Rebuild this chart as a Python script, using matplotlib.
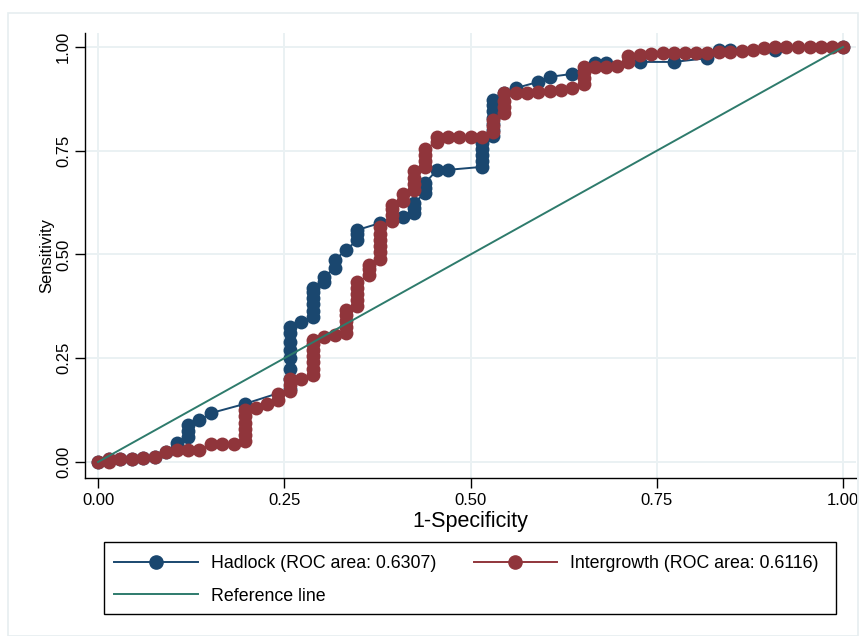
import matplotlib.pyplot as plt
from matplotlib.lines import Line2D
from matplotlib.patches import Rectangle

plt.rcParams['font.family'] = ['Liberation Sans', 'DejaVu Sans']

# Hadlock ROC points (1-specificity, sensitivity)
hadlock_x = [0.0, 0.015, 0.030, 0.045, 0.061, 0.076, 0.091, 0.106,
             0.121, 0.121, 0.121, 0.136, 0.152, 0.197,
             0.258, 0.258, 0.258, 0.258, 0.258, 0.258, 0.258, 0.258,
             0.273,
             0.288, 0.288, 0.288, 0.288, 0.288, 0.288, 0.303, 0.303,
             0.318, 0.318, 0.333, 0.348, 0.348, 0.348, 0.379, 0.409,
             0.424, 0.424, 0.424, 0.439, 0.439, 0.439, 0.455, 0.470,
             0.515, 0.515, 0.515, 0.515, 0.515,
             0.530, 0.530, 0.530, 0.530, 0.530, 0.530, 0.530,
             0.545, 0.561, 0.591, 0.606, 0.636, 0.667, 0.682,
             0.727, 0.773, 0.818, 0.833, 0.848, 0.909, 1.0]
hadlock_y = [0.0, 0.007, 0.007, 0.007, 0.010, 0.012, 0.024, 0.046,
             0.060, 0.075, 0.090, 0.100, 0.118, 0.140,
             0.175, 0.200, 0.225, 0.250, 0.270, 0.290, 0.310, 0.325,
             0.337,
             0.350, 0.365, 0.380, 0.395, 0.410, 0.420, 0.434, 0.446,
             0.467, 0.487, 0.511, 0.535, 0.550, 0.559, 0.576, 0.590,
             0.600, 0.612, 0.624, 0.648, 0.660, 0.672, 0.704, 0.704,
             0.711, 0.725, 0.740, 0.755, 0.769,
             0.785, 0.800, 0.815, 0.830, 0.845, 0.860, 0.872,
             0.889, 0.901, 0.916, 0.928, 0.935, 0.961, 0.961,
             0.964, 0.964, 0.973, 0.993, 0.993, 0.993, 1.0]

# Intergrowth ROC points (1-specificity, sensitivity)
inter_x = [0.0, 0.015, 0.015, 0.030, 0.045, 0.061, 0.076, 0.091, 0.106,
           0.121, 0.136, 0.152, 0.167, 0.182,
           0.197, 0.197, 0.197, 0.197, 0.197, 0.197,
           0.212, 0.227, 0.242, 0.242,
           0.258, 0.258, 0.258, 0.273,
           0.288, 0.288, 0.288, 0.288, 0.288, 0.288, 0.288,
           0.303, 0.318,
           0.333, 0.333, 0.333, 0.333, 0.333,
           0.348, 0.348, 0.348, 0.348, 0.348,
           0.364, 0.364, 0.364,
           0.379, 0.379, 0.379, 0.379, 0.379, 0.379,
           0.394, 0.394, 0.394, 0.394, 0.409, 0.409,
           0.424, 0.424, 0.424, 0.424, 0.439, 0.439, 0.439, 0.439,
           0.455, 0.455, 0.470, 0.485, 0.500, 0.515,
           0.530, 0.530, 0.530, 0.545, 0.545, 0.545, 0.545,
           0.561, 0.576, 0.591, 0.606, 0.621, 0.636,
           0.652, 0.652, 0.652, 0.652, 0.667, 0.682, 0.697,
           0.712, 0.712, 0.727, 0.742, 0.758, 0.773, 0.788, 0.803, 0.818,
           0.833, 0.848, 0.864, 0.879, 0.894, 0.909, 0.924, 0.939, 0.955,
           0.970, 0.985, 1.0]
inter_y = [0.0, 0.0, 0.007, 0.007, 0.007, 0.010, 0.012, 0.024, 0.029,
           0.029, 0.029, 0.043, 0.043, 0.043,
           0.050, 0.065, 0.080, 0.095, 0.110, 0.125,
           0.130, 0.140, 0.150, 0.165,
           0.170, 0.185, 0.200, 0.200,
           0.210, 0.225, 0.240, 0.255, 0.270, 0.285, 0.295,
           0.300, 0.306,
           0.310, 0.325, 0.340, 0.355, 0.366,
           0.375, 0.390, 0.405, 0.420, 0.434,
           0.450, 0.465, 0.475,
           0.490, 0.505, 0.520, 0.535, 0.550, 0.566,
           0.580, 0.595, 0.610, 0.620, 0.630, 0.645,
           0.655, 0.670, 0.685, 0.700, 0.710, 0.725, 0.740, 0.755,
           0.770, 0.783, 0.783, 0.783, 0.783, 0.783,
           0.795, 0.810, 0.825, 0.840, 0.855, 0.870, 0.889,
           0.889, 0.889, 0.892, 0.894, 0.897, 0.900,
           0.910, 0.925, 0.940, 0.952, 0.952, 0.952, 0.955,
           0.965, 0.978, 0.980, 0.983, 0.985, 0.986, 0.986, 0.986, 0.986,
           0.988, 0.988, 0.990, 0.993, 0.998, 1.0, 1.0, 1.0, 1.0,
           1.0, 1.0, 1.0]

ref_x = [0.0, 1.0]
ref_y = [0.0, 1.0]

ticks = [0.0, 0.25, 0.5, 0.75, 1.0]
tick_labels = ["0.00", "0.25", "0.50", "0.75", "1.00"]

labels = ["Hadlock (ROC area: 0.6307)", "Intergrowth (ROC area: 0.6116)",
          "Reference line"]

navy = "#1a476f"
maroon = "#90353b"
green = "#2e7b6c"
grid_col = "#eaf1f3"

W, H = 863, 636
fig = plt.figure(figsize=(W / 100, H / 100), dpi=100)

# light outer frame (Stata graph region)
fig.patches.append(Rectangle((8 / W, 0), (858 - 8) / W, 1 - 13 / H,
                             transform=fig.transFigure, fill=False,
                             edgecolor="#e6eef0", linewidth=1.2))

ax = fig.add_axes([85 / W, 1 - 478 / H, (856 - 85) / W, (478 - 33) / H])
ax.set_xlim(-0.0175, 1.0174)
ax.set_ylim(-0.0386, 1.0337)

for t in ticks:
    ax.axhline(t, color=grid_col, lw=1.4, zorder=0)
    ax.axvline(t, color=grid_col, lw=1.4, zorder=0)

ms = 10
ax.plot(hadlock_x, hadlock_y, color=navy, lw=1.4, marker="o", ms=ms,
        markeredgewidth=0, zorder=2)
ax.plot(inter_x, inter_y, color=maroon, lw=1.4, marker="o", ms=ms,
        markeredgewidth=0, zorder=3)
ax.plot(ref_x, ref_y, color=green, lw=1.4, zorder=4)

for s in ["top", "right"]:
    ax.spines[s].set_visible(False)
for s in ["left", "bottom"]:
    ax.spines[s].set_linewidth(1.0)

ax.set_xticks(ticks)
ax.set_xticklabels(tick_labels, fontsize=12)
ax.set_yticks(ticks)
ax.set_yticklabels(tick_labels, fontsize=12, rotation=90, va="center")
ax.tick_params(direction="out", length=7, width=1, pad=3)
ax.tick_params(axis="x", pad=4)

ax.set_xlabel("1-Specificity", fontsize=15.5, labelpad=2)
ax.set_ylabel("Sensitivity", fontsize=12, labelpad=1)

handles = [
    Line2D([], [], color=navy, lw=1.4, marker="o", ms=9.5),
    Line2D([], [], color=green, lw=1.4),
    Line2D([], [], color=maroon, lw=1.4, marker="o", ms=9.5),
]
fig.legend(handles, [labels[0], labels[2], labels[1]], ncol=2,
           loc="center left", bbox_to_anchor=(114 / W, 1 - 580 / H),
           fontsize=12.8, frameon=False, borderpad=0, borderaxespad=0,
           handlelength=4.7, handletextpad=0.75, columnspacing=2.1,
           labelspacing=0.85)
fig.patches.append(Rectangle((104 / W, 1 - 614 / H), (836 - 104) / W,
                             (614 - 542) / H, transform=fig.transFigure,
                             fill=False, edgecolor="black", linewidth=1.0))

fig.savefig("out.png", dpi=100, facecolor="white")
